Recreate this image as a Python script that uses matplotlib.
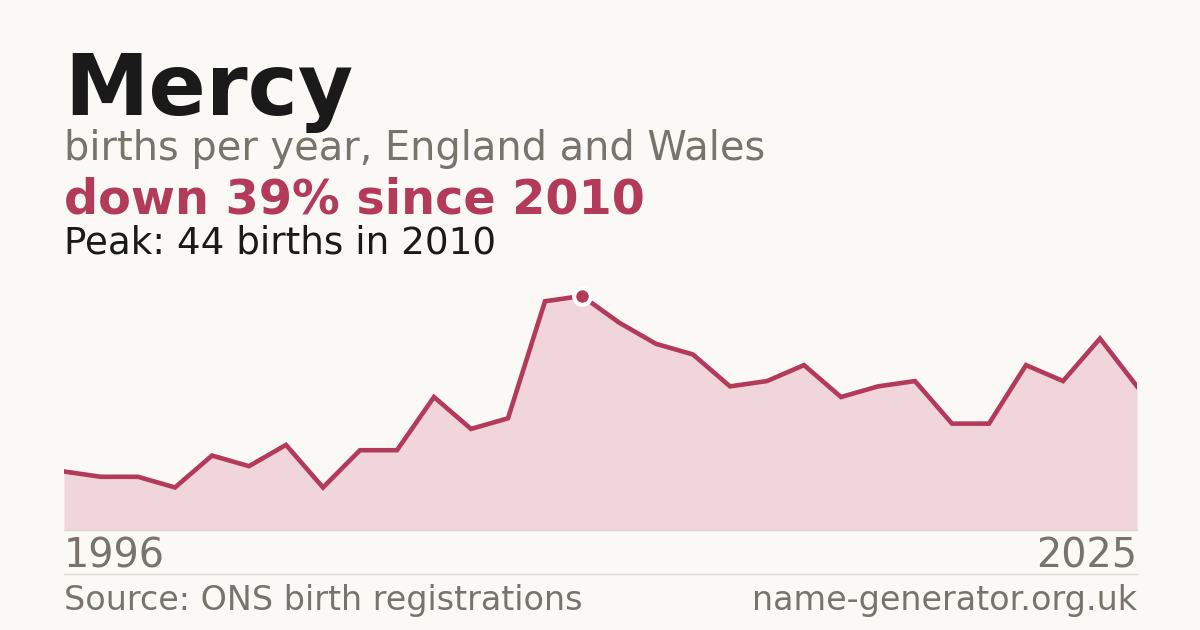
import numpy as np
import matplotlib
matplotlib.use('Agg')
from matplotlib import pyplot as plt

years = np.arange(1996, 2026)
births = [11, 10, 10, 8, 14, 12, 16, 8, 15, 15,
          25, 19, 21, 43, 44, 39, 35, 33, 27, 28,
          31, 25, 27, 28, 20, 20, 31, 28, 36, 27]
name = 'Mercy'
subtitle = 'births per year, England and Wales'
source = 'Source: ONS birth registrations'
site = 'name-generator.org.uk'

bg = '#faf9f5'
red = '#b33a58'
fill = '#f0d5da'
grey = '#78736b'
dark = '#1a1a1a'
rule = '#dcd8d0'

W, H = 1200, 630
fig = plt.figure(figsize=(W / 100, H / 100), dpi=100)
fig.patch.set_facecolor(bg)
plt.rcParams['font.family'] = 'DejaVu Sans'

def fx(px):
    return px / W

def fy(py):
    return 1 - py / H

# plot area: x 64..1137, y 280..530 px
ax = fig.add_axes([fx(64), fy(530), fx(1137 - 64), (530 - 280) / H])
ax.set_facecolor('none')
b = np.array(births)
ax.fill_between(years, 0, b, color=fill, lw=0)
ax.plot(years, b, color=red, lw=3.3, solid_joinstyle='miter')
ipk = int(np.argmax(b))
ax.plot(years[ipk], b[ipk], 'o', ms=12, color=red, mec='white', mew=3, zorder=5, clip_on=False)
ax.set_xlim(years[0], years[-1])
ax.set_ylim(0, 47)
ax.axis('off')

# rules
fig.add_artist(plt.Line2D([fx(64), fx(1137)], [fy(530), fy(530)], color=rule, lw=1))
fig.add_artist(plt.Line2D([fx(64), fx(1137)], [fy(574), fy(574)], color=rule, lw=1))

peak_year = years[ipk]
change = round((b[-1] - b[ipk]) / b[ipk] * 100)
trend = 'down' if change < 0 else 'up'

fig.text(fx(64), fy(115), name, fontsize=61, fontweight='bold', color=dark, va='baseline')
fig.text(fx(64), fy(160), subtitle, fontsize=28.75, color=grey, va='baseline')
fig.text(fx(64), fy(214), f'{trend} {abs(change)}% since {peak_year}', fontsize=34.4,
         fontweight='bold', color=red, va='baseline')
fig.text(fx(64), fy(253), f'Peak: {b[ipk]} births in {peak_year}', fontsize=26.8,
         color=dark, va='baseline')

fig.text(fx(64), fy(568), str(years[0]), fontsize=28.6, color=grey, va='baseline')
fig.text(fx(1137), fy(568), str(years[-1]), fontsize=28.6, color=grey, va='baseline', ha='right')
fig.text(fx(64), fy(610), source, fontsize=24, color=grey, va='baseline')
fig.text(fx(1137), fy(610), site, fontsize=24, color=grey, va='baseline', ha='right')

fig.savefig('out.png', dpi=100, facecolor=bg)
